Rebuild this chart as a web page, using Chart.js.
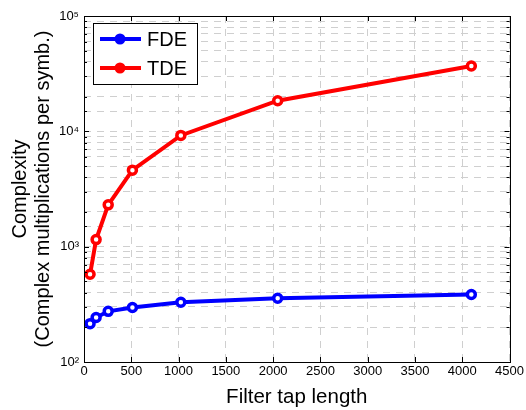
<!DOCTYPE html>
<html>
<head>
<meta charset="utf-8">
<script src="https://cdn.jsdelivr.net/npm/chart.js@4/dist/chart.umd.min.js"></script>
<style>
  html, body { margin: 0; padding: 0; background: #fff; }
  #wrap { width: 526px; height: 410px; }
</style>
</head>
<body>
<div id="wrap"><canvas id="myChart" width="526" height="410"></canvas></div>
<script>
// filter tap lengths (x)
const tapLengths = [64, 128, 256, 512, 1024, 2048, 4096];
// complex multiplications per symbol
const fdeValues = [215, 243, 275, 297, 330, 357, 385];
const tdeValues = [576, 1152, 2304, 4608, 9216, 18432, 36864];
const xTicks = [0, 500, 1000, 1500, 2000, 2500, 3000, 3500, 4000, 4500];
const yMajors = [100, 1000, 10000, 100000];
const yLabels = ['10\u00b2', '10\u00b3', '10\u2074', '10\u2075'];

const FONT = 'Liberation Sans, Arial, Helvetica, sans-serif';

function toPoints(vals) {
  return tapLengths.map((x, i) => ({ x: x, y: vals[i] }));
}

function isMajor(v) {
  return yMajors.some(m => Math.abs(v - m) < 1e-6 * m);
}

// box around the plot + inward ticks like matlab
const boxTicks = {
  id: 'boxTicks',
  afterDatasetsDraw(chart) {
    const ctx = chart.ctx, a = chart.chartArea;
    const xs = chart.scales.x, ys = chart.scales.y;
    ctx.save();
    ctx.strokeStyle = '#000';
    ctx.lineWidth = 1;
    xs.ticks.forEach(t => {
      const px = Math.round(xs.getPixelForValue(t.value)) + 0.5;
      ctx.beginPath();
      ctx.moveTo(px, a.bottom); ctx.lineTo(px, a.bottom - 5);
      ctx.moveTo(px, a.top); ctx.lineTo(px, a.top + 5);
      ctx.stroke();
    });
    ys.ticks.forEach(t => {
      const py = Math.round(ys.getPixelForValue(t.value)) + 0.5;
      const len = isMajor(t.value) ? 5 : 3;
      ctx.beginPath();
      ctx.moveTo(a.left, py); ctx.lineTo(a.left + len, py);
      ctx.moveTo(a.right, py); ctx.lineTo(a.right - len, py);
      ctx.stroke();
    });
    ctx.strokeRect(Math.round(a.left) + 0.5, Math.round(a.top) + 0.5,
      Math.round(a.right - a.left), Math.round(a.bottom - a.top));
    ctx.restore();
  }
};

// legend with line + marker, boxed
const boxLegend = {
  id: 'boxLegend',
  afterDraw(chart) {
    const ctx = chart.ctx;
    const bx = 93, by = 23, bw = 104, bh = 61;
    ctx.save();
    ctx.fillStyle = '#fff';
    ctx.fillRect(bx, by, bw, bh);
    ctx.strokeStyle = '#000';
    ctx.lineWidth = 1;
    ctx.strokeRect(bx + 0.5, by + 0.5, bw, bh);
    chart.data.datasets.forEach((ds, i) => {
      const y = by + 16 + i * 29;
      ctx.strokeStyle = ds.borderColor;
      ctx.lineWidth = 4;
      ctx.beginPath();
      ctx.moveTo(100, y); ctx.lineTo(141, y);
      ctx.stroke();
      ctx.fillStyle = ds.borderColor;
      ctx.beginPath();
      ctx.arc(120, y, 5.5, 0, Math.PI * 2);
      ctx.fill();
      ctx.fillStyle = '#000';
      ctx.font = '20px ' + FONT;
      ctx.textBaseline = 'middle';
      ctx.fillText(ds.label, 147, y + 1);
    });
    ctx.restore();
  }
};

const ctx = document.getElementById('myChart').getContext('2d');
new Chart(ctx, {
  type: 'line',
  data: {
    datasets: [
      {
        label: 'FDE',
        data: toPoints(fdeValues),
        borderColor: '#0000ff',
        borderWidth: 4,
        pointRadius: 4,
        pointBorderWidth: 3.5,
        pointBackgroundColor: '#fff',
        pointBorderColor: '#0000ff'
      },
      {
        label: 'TDE',
        data: toPoints(tdeValues),
        borderColor: '#ff0000',
        borderWidth: 4,
        pointRadius: 4,
        pointBorderWidth: 3.5,
        pointBackgroundColor: '#fff',
        pointBorderColor: '#ff0000'
      }
    ]
  },
  options: {
    responsive: false,
    animation: false,
    layout: { padding: { top: 16, right: 13, left: 0, bottom: 0 } },
    plugins: {
      legend: { display: false },
      tooltip: { enabled: false }
    },
    scales: {
      x: {
        type: 'linear',
        min: 0,
        max: 4500,
        afterBuildTicks: s => { s.ticks = xTicks.map(v => ({ value: v })); },
        ticks: {
          color: '#000',
          font: { family: FONT, size: 13 },
          padding: 2,
          maxRotation: 0,
          autoSkip: false,
          callback: v => String(v)
        },
        grid: { color: '#cfcfcf', lineWidth: 1, drawTicks: false },
        border: { display: false, dash: [7, 6] },
        title: {
          display: true,
          text: 'Filter tap length',
          color: '#000',
          font: { family: FONT, size: 20.5 },
          padding: { top: 0, bottom: 0 }
        },
        afterFit: s => { s.height = 48; }
      },
      y: {
        type: 'logarithmic',
        min: 100,
        max: 100000,
        ticks: {
          color: '#000',
          font: { family: FONT, size: 13 },
          padding: 5,
          autoSkip: false,
          callback: function (v) {
            const k = yMajors.findIndex(m => Math.abs(v - m) < 1e-6 * m);
            return k >= 0 ? yLabels[k] : '';
          }
        },
        grid: { color: '#cfcfcf', lineWidth: 1, drawTicks: false },
        border: { display: false, dash: [7, 6] },
        title: {
          display: true,
          text: ['Complexity', '(Complex multiplications per symb.)'],
          color: '#000',
          font: { family: FONT, size: 20, lineHeight: 1.15 },
          padding: { top: 9, bottom: 0 }
        },
        afterFit: s => { s.width = 84; }
      }
    }
  },
  plugins: [boxTicks, boxLegend]
});
</script>
</body>
</html>
